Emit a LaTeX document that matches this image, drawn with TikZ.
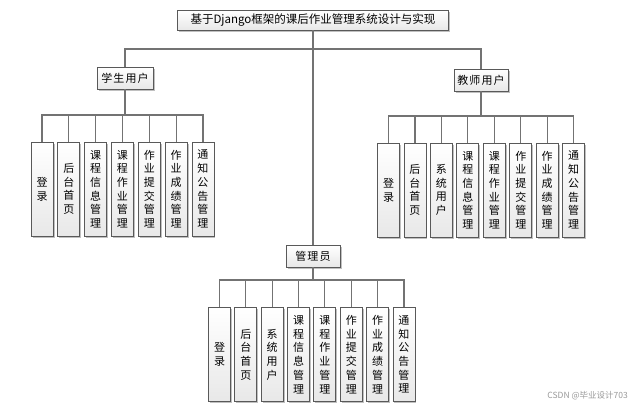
\documentclass[tikz,border=0pt]{standalone}
\usepackage{fontspec}
\newfontfamily\cjk{Noto Sans CJK SC}
\newfontfamily\cjksp[LetterSpace=10]{Noto Sans CJK SC}
\usetikzlibrary{shadows}
\begin{document}
\begin{tikzpicture}[x=1pt,y=-1pt,
  box/.style={draw=black!65, line width=0.9pt, top color=white, bottom color=black!9,
    drop shadow={shadow xshift=1.5pt, shadow yshift=-1.5pt, fill=black!35, opacity=0.7},
    inner sep=0pt, font=\cjk\fontsize{11}{13.7}\selectfont, align=center},
  head/.style={box, minimum width=55pt, minimum height=22pt, font=\cjksp\fontsize{11}{13}\selectfont},
  leaf/.style={box, minimum width=22pt, minimum height=94pt},
  conn/.style={draw=black!55, line width=1.1pt}]
\useasboundingbox[fill=white] (0,0) rectangle (635,408);

\node[box, minimum width=271pt, minimum height=20pt, font=\cjk\fontsize{11.5}{13}\selectfont] (root) at (313,20) {基于Django框架的课后作业管理系统设计与实现};
\node[head, minimum width=56pt] (stu) at (125,78) {学生用户};
\node[head, minimum width=54pt] (tea) at (481,80) {教师用户};
\node[head, minimum width=54pt] (adm) at (313,256) {管理员};

\coordinate (b0) at (313,49);
\coordinate (sb) at (125,115);
\coordinate (tb) at (481,116);
\coordinate (ab) at (313,280);

\draw[conn] (root.south) -- (adm.north);
\draw[conn] (stu.north) |- (b0) -| (tea.north);
\draw[conn] (stu.south) -- (sb);
\draw[conn] (tea.south) -- (tb);
\draw[conn] (adm.south) -- (ab);

\foreach \t [count=\i] in {{登\\录},{后\\台\\首\\页},{课\\程\\信\\息\\管\\理},{课\\程\\作\\业\\管\\理},{作\\业\\提\\交\\管\\理},{作\\业\\成\\绩\\管\\理},{通\\知\\公\\告\\管\\理}}{
  \node[leaf] (s\i) at ({42+26.83*(\i-1)},189) {\t};
  \draw[conn] (s\i.north) |- (sb);
}
\foreach \t [count=\i] in {{登\\录},{后\\台\\首\\页},{系\\统\\用\\户},{课\\程\\信\\息\\管\\理},{课\\程\\作\\业\\管\\理},{作\\业\\提\\交\\管\\理},{作\\业\\成\\绩\\管\\理},{通\\知\\公\\告\\管\\理}}{
  \node[leaf] (t\i) at ({388.5+26.45*(\i-1)},190) {\t};
  \draw[conn] (t\i.north) |- (tb);
}
\foreach \t [count=\i] in {{登\\录},{后\\台\\首\\页},{系\\统\\用\\户},{课\\程\\信\\息\\管\\理},{课\\程\\作\\业\\管\\理},{作\\业\\提\\交\\管\\理},{作\\业\\成\\绩\\管\\理},{通\\知\\公\\告\\管\\理}}{
  \node[leaf] (a\i) at ({219.5+26.35*(\i-1)},354.5) {\t};
  \draw[conn] (a\i.north) |- (ab);
}

\node[font=\cjk\fontsize{8.5}{10}\selectfont, text=black!40, anchor=east, inner sep=0pt] (wm) at (628,396) {CSDN @毕业设计703};
\end{tikzpicture}
\end{document}
